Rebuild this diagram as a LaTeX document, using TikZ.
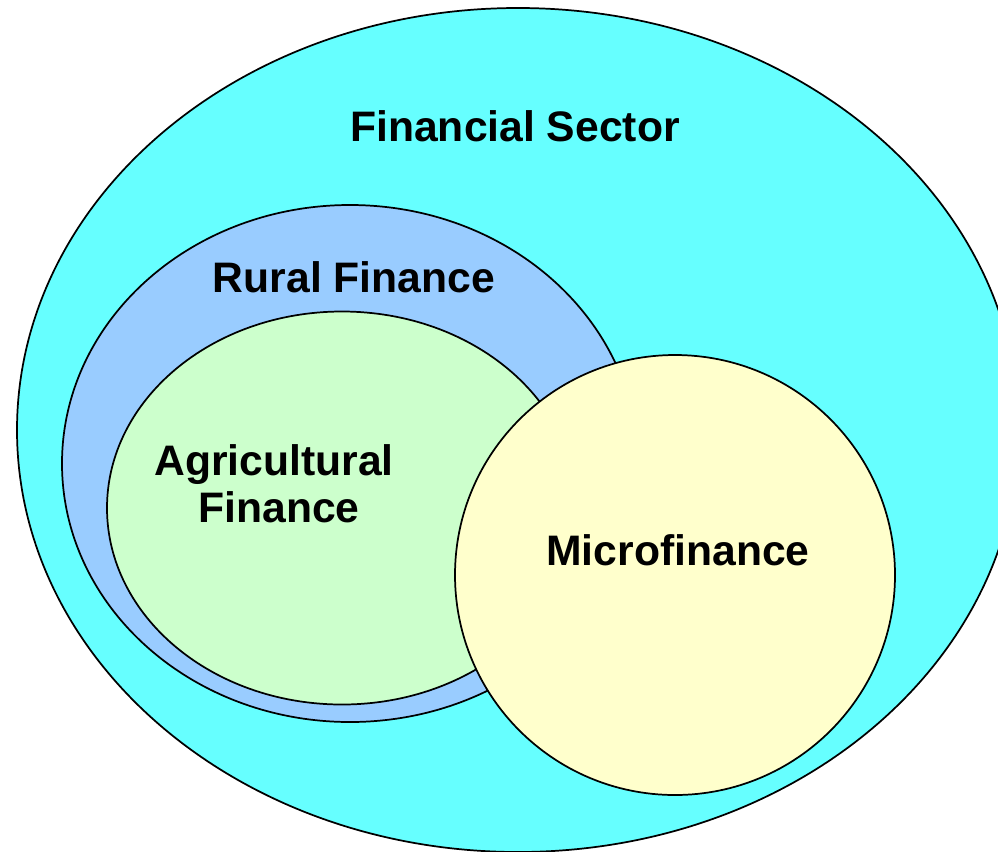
\documentclass[tikz,border=0pt]{standalone}
\usepackage{fontspec}
\setmainfont{Liberation Sans}
\definecolor{fincyan}{HTML}{66FFFF}
\definecolor{rurblue}{HTML}{99CCFF}
\definecolor{agrgreen}{HTML}{CCFFCC}
\definecolor{micyellow}{HTML}{FFFFCC}
\begin{document}
\begin{tikzpicture}[x=0.75pt,y=-0.75pt,
  blob/.style={draw=black,line width=1.3pt},
  lbl/.style={font=\fontsize{32}{35.3}\selectfont\bfseries,align=center,inner sep=0pt}]
\useasboundingbox (0,0) rectangle (998,851);
\clip (0,0) rectangle (998,851);
\draw[blob,fill=fincyan] (518,430) ellipse [x radius=501,y radius=422];
\draw[blob,fill=rurblue] (350,463.5) ellipse [x radius=288,y radius=258.5];
\draw[blob,fill=agrgreen] (342,508) ellipse [x radius=235,y radius=196.5];
\draw[blob,fill=micyellow] (675,575) circle [radius=220];
\node[lbl] (fs) at (515,126) {Financial Sector};
\node[lbl] (rf) at (354,277) {Rural Finance};
\node[lbl] (af) at (274,484) {Agricultural\\\hspace*{7.5pt}Finance};
\node[lbl] (mf) at (678,550) {Microfinance};
\end{tikzpicture}
\end{document}
